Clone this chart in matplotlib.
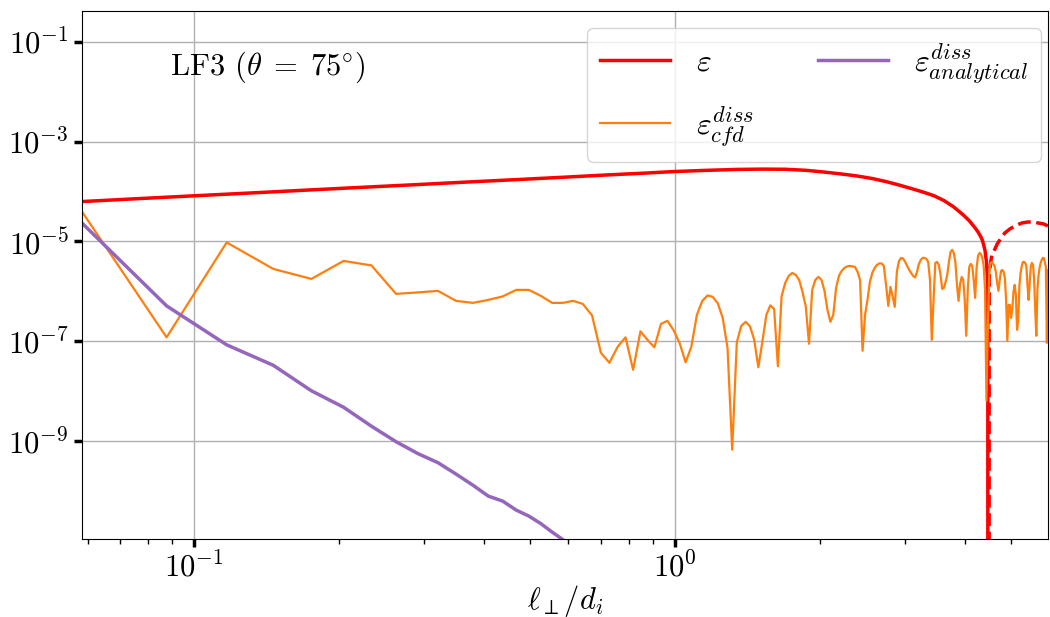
import numpy as np
import matplotlib
matplotlib.use("Agg")
import matplotlib.pyplot as plt
from matplotlib.ticker import FixedLocator, NullLocator, NullFormatter

plt.rcParams.update({
    "font.family": "serif",
    "font.serif": ["cmr10"],
    "mathtext.fontset": "cm",
    "axes.formatter.use_mathtext": True,
    "font.size": 22,
})

# perpendicular scale grid, l = k * dl
dl = 0.0292
k_grid = np.arange(2, 205)
ell = dl * k_grid

# total cascade rate (sign changes near l ~ 4.5 d_i), sampled on a subset of k
eps_k = [2, 3, 4, 5, 6, 8, 10, 13, 16, 20, 25, 30, 34, 40, 46, 52, 58, 64, 70,
         76, 82, 88, 94, 100, 106, 112, 118, 124, 130, 136, 140, 144, 146, 148,
         149, 150, 151, 152, 153, 154, 155, 156, 157, 160, 163, 166, 170, 175,
         180, 185, 190, 195, 200, 204]
eps_total = [6.3e-5, 7.7e-5, 8.85e-5, 9.86e-5, 1.08e-4, 1.24e-4, 1.38e-4,
             1.57e-4, 1.73e-4, 1.93e-4, 2.16e-4, 2.35e-4, 2.51e-4, 2.66e-4,
             2.77e-4, 2.81e-4, 2.79e-4, 2.66e-4, 2.45e-4, 2.24e-4, 2.04e-4,
             1.82e-4, 1.58e-4, 1.35e-4, 1.15e-4, 9.8e-5, 8.3e-5, 6.6e-5,
             4.9e-5, 3.4e-5, 2.6e-5, 1.86e-5, 1.55e-5, 1.23e-5, 1.07e-5,
             8.5e-6, 6.5e-6, 3.9e-6, 1.35e-6, -1.95e-6, -3.7e-6, -5.4e-6,
             -5.9e-6, -8.9e-6, -1.17e-5, -1.48e-5, -1.78e-5, -2.09e-5,
             -2.34e-5, -2.45e-5, -2.45e-5, -2.34e-5, -2.24e-5, -2.04e-5]

# log10 of the numerical (cfd) dissipation, one value per k = 2..204
log_eps_cfd = [
    -4.40, -6.92, -5.02, -5.55, -5.75, -5.39, -5.48, -6.05, -6.02, -5.99,
    -6.19, -6.23, -6.17, -6.10, -5.97, -5.97, -6.09, -6.23, -6.23, -6.19,
    -6.25, -6.48, -7.23, -7.43, -7.11, -6.92, -7.57, -6.80, -6.97, -7.12,
    -6.65, -6.59, -6.78, -7.04, -7.42, -7.11, -6.47, -6.19, -6.08, -6.11,
    -6.24, -6.53, -7.13, -9.17, -7.02, -6.69, -6.61, -6.70, -6.97, -7.52,
    -7.00, -6.47, -6.28, -6.35, -7.50, -6.10, -5.83, -5.69, -5.63, -5.67,
    -5.77, -6.01, -6.30, -7.05, -5.97, -5.77, -5.71, -5.77, -5.99, -6.37,
    -6.61, -6.47, -5.93, -5.69, -5.59, -5.53, -5.50, -5.49, -5.50, -5.51,
    -5.61, -5.77, -7.19, -6.47, -6.17, -5.81, -5.63, -5.53, -5.47, -5.44,
    -5.44, -5.49, -5.87, -6.29, -5.91, -6.10, -6.31, -5.60, -5.39, -5.33,
    -5.34, -5.41, -5.49, -5.57, -5.63, -5.69, -5.72, -5.61, -5.45, -5.37,
    -5.33, -5.33, -5.35, -5.41, -5.77, -6.97, -6.17, -5.43, -5.41, -5.47,
    -5.67, -5.95, -5.93, -5.81, -5.67, -5.41, -5.21, -5.17, -5.23, -5.41,
    -5.87, -6.19, -5.85, -5.71, -5.77, -6.17, -6.89, -5.97, -5.51, -5.45,
    -5.49, -5.77, -6.13, -5.53, -5.29, -5.23, -5.25, -5.33, -5.49, -5.97,
    -8.19, -6.77, -5.67, -5.43, -5.41, -5.45, -5.49, -5.61, -5.83, -5.99,
    -5.77, -5.59, -5.57, -5.61, -5.73, -6.17, -6.99, -6.27, -6.27, -6.53,
    -6.37, -6.01, -5.87, -6.07, -6.77, -6.57, -5.87, -5.63, -5.49, -5.41,
    -5.41, -5.43, -5.49, -5.87, -6.17, -5.83, -5.49, -5.43, -5.47, -5.77,
    -6.37, -6.89, -5.97, -5.69, -5.53, -5.43, -5.37, -5.33, -5.33, -5.41,
    -5.51, -7.03, -5.57,
]

# log10 of the analytical dissipation, k = 2..22 (falls below the axis after)
log_eps_ana = [-4.63, -6.29, -7.07, -7.48, -7.99, -8.32, -8.70, -9.01, -9.25,
               -9.43, -9.66, -9.88, -10.10, -10.20, -10.38, -10.50, -10.65,
               -10.82, -10.97, -11.15, -11.30]

ell_eps = dl * np.array(eps_k)
eps_total = np.array(eps_total)
eps_cfd = 10.0 ** np.array(log_eps_cfd)
eps_ana = 10.0 ** np.array(log_eps_ana)

fig, ax = plt.subplots(figsize=(10.5, 6.17), dpi=100)
fig.subplots_adjust(left=0.078, right=0.998, bottom=0.1264, top=0.982)

ax.set_xscale("log")
ax.set_yscale("log", nonpositive="clip")

# solid where eps > 0, dashed for |eps| where it turns negative
l1, = ax.plot(ell_eps, eps_total, color="red", lw=2.5, label=r"$\varepsilon$")
ax.plot(ell_eps, -eps_total, color="red", lw=2.5, ls="--")
l2, = ax.plot(ell, eps_cfd, color="C1", lw=1.6,
              label=r"$\varepsilon^{diss}_{cfd}$")
l3, = ax.plot(ell[:len(eps_ana)], eps_ana, color="C4", lw=2.5,
              label=r"$\varepsilon^{diss}_{analytical}$")

ax.set_xlim(ell[0], ell[-1])
ax.set_ylim(1.1e-11, 0.41)

ax.yaxis.set_major_locator(FixedLocator([1e-1, 1e-3, 1e-5, 1e-7, 1e-9]))
ax.yaxis.set_minor_locator(NullLocator())
ax.xaxis.set_minor_formatter(NullFormatter())
ax.tick_params(which="major", length=6, width=2.5)
ax.tick_params(which="minor", length=3.5, width=1)
ax.grid(True, which="major", color="#b0b0b0", lw=1)

ax.set_xlabel(r"$\ell_\perp/d_i$", labelpad=0)
ax.text(0.091, 0.894, r"LF3 ($\theta\;=\;75^{\circ}$)", transform=ax.transAxes,
        ha="left", va="center")

ax.legend(handles=[l1, l2, l3], loc="upper right", bbox_to_anchor=(0.9928, 0.9678),
          borderaxespad=0, ncol=2, fontsize=23, handlelength=2.2,
          handletextpad=0.8, columnspacing=2.0, labelspacing=0.85)

fig.savefig("out.png", dpi=100)
